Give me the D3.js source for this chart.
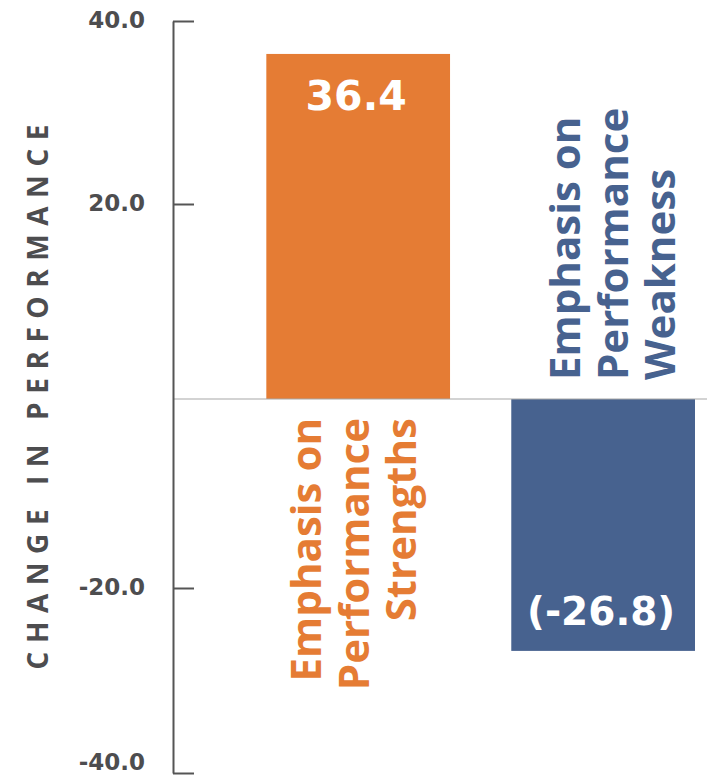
<!DOCTYPE html>
<html>
<head>
<meta charset="utf-8">
<script src="https://cdn.jsdelivr.net/npm/d3@7"></script>
<style>
  html, body { margin: 0; padding: 0; background: #ffffff; }
  svg { display: block; }
</style>
</head>
<body>
<svg id="chart" width="707" height="775"></svg>
<script>
// ---- data ----
const categories = ["Strengths", "Weakness"];
const values = [36.4, -26.8];
const valueLabels = ["36.4", "(-26.8)"];
const categoryLabels = [
  ["Emphasis on", "Performance", "Strengths"],
  ["Emphasis on", "Performance", "Weakness"]
];
const tickValues = [40, 20, -20, -40];
const tickLabels = ["40.0", "20.0", "-20.0", "-40.0"];
const axisTitle = "CHANGE IN PERFORMANCE";
const colors = ["#E57C34", "#47628F"];

// ---- layout ----
const W = 707, H = 775;
const axisX = 173;
const svg = d3.select("#chart");

// piecewise scale following the reference's (slightly uneven) tick spacing
const y = d3.scaleLinear()
  .domain([-40, -20, 0, 20, 40])
  .range([773, 588, 399, 204, 21]);
const x = d3.scaleBand().domain(categories)
  .range([axisX, W])
  .paddingInner(0.25)
  .paddingOuter(0.215)
  .align(0.886);

const numFont = "'DejaVu Sans', sans-serif";
const textFont = "'Open Sans', sans-serif";
const grey = "#4d4d4f";

// bars
svg.append("g").selectAll("rect")
  .data(values)
  .join("rect")
  .attr("x", (d, i) => x(categories[i]))
  .attr("width", x.bandwidth())
  .attr("y", d => y(Math.max(0, d)))
  .attr("height", d => Math.abs(y(d) - y(0)))
  .attr("fill", (d, i) => colors[i]);

// zero line
svg.append("line")
  .attr("x1", axisX).attr("x2", W)
  .attr("y1", y(0)).attr("y2", y(0))
  .attr("stroke", "#a8a8a8").attr("stroke-width", 1.2);

// y axis
const axis = d3.axisRight(y)
  .tickValues(tickValues)
  .tickSize(21)
  .tickSizeOuter(0)
  .tickFormat((d, i) => tickLabels[i]);

const gAxis = svg.append("g")
  .attr("transform", `translate(${axisX},0)`)
  .call(axis);
gAxis.select(".domain").attr("stroke", "#555").attr("stroke-width", 2);
gAxis.selectAll(".tick line").attr("stroke", "#555").attr("stroke-width", 2);
gAxis.selectAll(".tick text")
  .attr("x", -28)
  .attr("dy", d => (y(d) + 9 > H - 1) ? (H - 6 - y(d)) + "px" : "0.3em")
  .attr("text-anchor", "end")
  .attr("fill", grey)
  .attr("font-family", numFont)
  .attr("font-weight", "bold")
  .attr("font-size", 23);

// axis title
svg.append("text")
  .attr("transform", "translate(48,397) rotate(-90)")
  .attr("text-anchor", "middle")
  .attr("font-family", textFont)
  .attr("font-weight", "bold")
  .attr("font-size", 28)
  .attr("fill", grey)
  .attr("textLength", 545)
  .attr("lengthAdjust", "spacing")
  .text(axisTitle);

// value labels
svg.append("g").selectAll("text")
  .data(values)
  .join("text")
  .attr("x", (d, i) => x(categories[i]) + x.bandwidth() / 2 - 2)
  .attr("y", d => d > 0 ? y(d) + 56 : y(d) - 26)
  .attr("text-anchor", "middle")
  .attr("fill", "#ffffff")
  .attr("font-family", numFont)
  .attr("font-weight", "bold")
  .attr("font-size", (d) => d > 0 ? 41 : 39)
  .text((d, i) => valueLabels[i]);

// category labels (rotated)
categoryLabels.forEach((lines, i) => {
  const v = values[i];
  const firstBaseline = i === 0 ? x(categories[i]) + 55 : x(categories[i]) + 69;
  const yPos = v > 0 ? y(0) + 19 : y(0) - 19;
  const t = svg.append("text")
    .attr("transform", `translate(${firstBaseline},${yPos}) rotate(-90)`)
    .attr("text-anchor", v > 0 ? "end" : "start")
    .attr("fill", colors[i])
    .attr("font-family", textFont)
    .attr("font-weight", "bold")
    .attr("font-size", 42);
  lines.forEach((ln, j) => {
    t.append("tspan")
      .attr("x", 0)
      .attr("y", j * 47.5)
      .text(ln);
  });
});
</script>
</body>
</html>
